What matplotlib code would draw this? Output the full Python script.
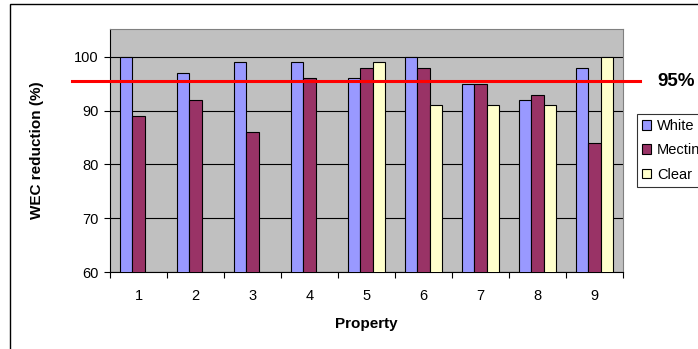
import matplotlib.pyplot as plt
import numpy as np
from matplotlib.lines import Line2D
from matplotlib.patches import Rectangle
from matplotlib.transforms import blended_transform_factory

plt.rcParams['font.family'] = ['Liberation Sans', 'DejaVu Sans']

properties = [1, 2, 3, 4, 5, 6, 7, 8, 9]
white = [100, 97, 99, 99, 96, 100, 95, 92, 98]
mectin = [89, 92, 86, 96, 98, 98, 95, 93, 84]
clear = [np.nan, np.nan, np.nan, np.nan, 99, 91, 91, 91, 100]
target = 95.5

fig = plt.figure(figsize=(6.98, 3.49), dpi=100)
ax = fig.add_axes([110 / 698, 1 - 272 / 349, 513 / 698, 243 / 349])
ax.set_facecolor('#C0C0C0')

x = np.array(properties)
w = 0.222
ax.bar(x - w, white, w, color='#9999FF', edgecolor='black', linewidth=0.8, label='White', zorder=3)
ax.bar(x, mectin, w, color='#993366', edgecolor='black', linewidth=0.8, label='Mectin', zorder=3)
ax.bar(x + w, clear, w, color='#FFFFCC', edgecolor='black', linewidth=0.8, label='Clear', zorder=3)

ax.set_xlim(0.5, 9.5)
ax.set_ylim(60, 105.2)
ax.set_yticks([60, 70, 80, 90, 100])
ax.yaxis.grid(True, color='black', linewidth=0.8, zorder=1)
ax.set_axisbelow(True)

# ticks on category boundaries, labels at the centres
ax.set_xticks(np.arange(0.5, 10, 1))
ax.set_xticklabels([])
ax.set_xticks(x, minor=True)
ax.set_xticklabels([str(p) for p in properties], minor=True)
ax.tick_params(axis='x', which='major', direction='out', length=4, width=0.8)
ax.tick_params(axis='x', which='minor', length=0, pad=12, labelsize=10.5)
ax.tick_params(axis='y', direction='out', length=4, width=0.8, pad=4, labelsize=10.5)

for s in ['top', 'right']:
    ax.spines[s].set_color('#808080')
for s in ['left', 'bottom']:
    ax.spines[s].set_color('black')

ax.set_xlabel('Property', fontsize=11, fontweight='bold', labelpad=10)
ax.set_ylabel('WEC reduction (%)', fontsize=11, fontweight='bold', labelpad=22)

# 95% line across the chart
tr = blended_transform_factory(fig.transFigure, ax.transData)
fig.add_artist(Line2D([72 / 698, 640 / 698], [target, target], transform=tr,
                      color='#FF0000', linewidth=2.2, zorder=5))
fig.text(657 / 698, target, '95%', transform=tr, fontsize=13.5, fontweight='bold',
         va='center', ha='left')

leg = fig.legend(loc='upper left', bbox_to_anchor=(637 / 698, 1 - 114 / 349), fontsize=10.5,
                 frameon=True, fancybox=False, edgecolor='black', handlelength=0.62,
                 handleheight=0.62, handletextpad=0.4, labelspacing=0.7, borderpad=0.35,
                 borderaxespad=0)
leg.get_frame().set_linewidth(0.8)

# outer chart border
fig.add_artist(Rectangle((10 / 698, -0.1), 1.0, 1.1 - 3.5 / 349, transform=fig.transFigure,
                         fill=False, edgecolor='black', linewidth=1.0))

fig.savefig('out.png', dpi=100)
